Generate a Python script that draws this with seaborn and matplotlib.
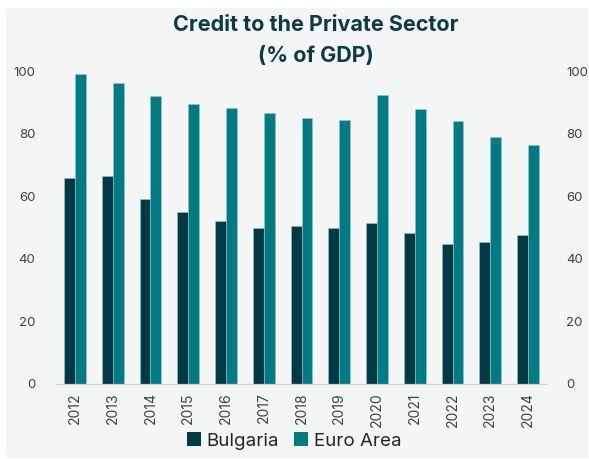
import matplotlib
matplotlib.use("Agg")
import matplotlib.pyplot as plt
from matplotlib.patches import Rectangle
import seaborn as sns
import pandas as pd
import numpy as np

years = ["2012", "2013", "2014", "2015", "2016", "2017", "2018",
         "2019", "2020", "2021", "2022", "2023", "2024"]
bulgaria = [65.8, 66.3, 59.2, 54.9, 52.1, 49.8, 50.5,
            49.8, 51.3, 48.2, 44.8, 45.4, 47.6]
euro_area = [98.9, 96.2, 92.0, 89.3, 88.1, 86.6, 85.1,
             84.3, 92.4, 87.7, 83.9, 78.8, 76.3]
series_names = ["Bulgaria", "Euro Area"]
colors = ["#013A44", "#007A83"]
yticks = [0, 20, 40, 60, 80, 100]

df = pd.DataFrame({
    "Year": years * 2,
    "Value": bulgaria + euro_area,
    "Series": [series_names[0]] * len(years) + [series_names[1]] * len(years),
})

sns.set_theme(style="white")
plt.rcParams["font.family"] = ["Inter", "DejaVu Sans"]

W, H = 589, 459
fig = plt.figure(figsize=(W / 100, H / 100), dpi=100)
fig.patch.set_facecolor("white")
panel_bg = "#F4F6F6"
fig.patches.append(Rectangle((6 / W, 1 - 458 / H), (588 - 6) / W, (458 - 8) / H,
                             transform=fig.transFigure, facecolor=panel_bg,
                             edgecolor="none", zorder=-10))

ax = fig.add_axes([56 / W, 1 - 384 / H, (547 - 56) / W, (384 - 71) / H])
ax.set_facecolor("none")

sns.barplot(data=df, x="Year", y="Value", hue="Series", palette=colors,
            width=0.575, gap=0, ax=ax, edgecolor="#9fc4c7", linewidth=0.4,
            saturation=1)

ax.set_ylim(0, 100)
ax.set_xlim(-0.5, len(years) - 0.5)
ax.set_yticks(yticks)
ax.set_yticklabels([str(t) for t in yticks], color="#404040", fontsize=9.5)
ax.set_xlabel("")
ax.set_ylabel("")
ax.tick_params(axis="y", length=0, pad=15)
ax.tick_params(axis="x", which="major", length=0, pad=6)
ax.set_xticks(range(len(years)))
ax.set_xticklabels(years, rotation=90, color="#404040", fontsize=10)
ax.set_xticks(np.arange(-0.5, len(years), 1.0), minor=True)
ax.tick_params(axis="x", which="minor", length=5, width=0.8, color="#D6CFCE",
               direction="out")

for s in ["left", "right", "top"]:
    ax.spines[s].set_visible(False)
ax.spines["bottom"].set_color("#D6CFCE")
ax.spines["bottom"].set_linewidth(0.9)

# Right-hand axis repeating the same scale
ax2 = ax.twinx()
ax2.set_ylim(0, 100)
ax2.set_yticks(yticks)
ax2.set_yticklabels([str(t) for t in yticks], color="#404040", fontsize=9.5)
ax2.tick_params(axis="y", length=0, pad=14)
for s in ["left", "right", "top", "bottom"]:
    ax2.spines[s].set_visible(False)

leg = ax.legend(loc="center", bbox_to_anchor=(294 / W, 1 - 441 / H),
                bbox_transform=fig.transFigure, ncol=2, frameon=False,
                fontsize=13.5, handlelength=0.75, handleheight=0.75,
                handletextpad=0.3, columnspacing=0.8)
for t in leg.get_texts():
    t.set_color("#262626")
for h in leg.legend_handles:
    h.set_edgecolor("none")

fig.text(316 / W, 1 - 25 / H, "Credit to the Private Sector", ha="center",
         va="center", fontsize=15.5, fontweight="bold", color="#0D3B45")
fig.text(316 / W, 1 - 56 / H, "(% of GDP)", ha="center",
         va="center", fontsize=15.5, fontweight="bold", color="#0D3B45")

fig.savefig("out.png", dpi=100)
